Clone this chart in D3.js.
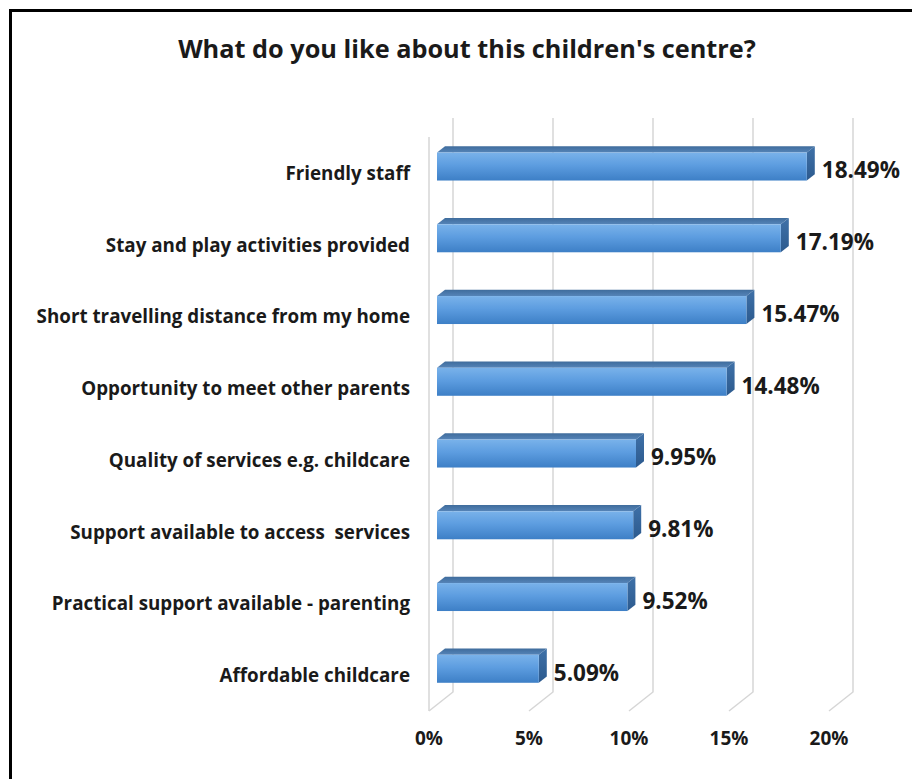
<!DOCTYPE html>
<html>
<head>
<meta charset="utf-8">
<script src="https://cdn.jsdelivr.net/npm/d3@7"></script>
<style>
  html, body { margin: 0; padding: 0; background: #fff; }
  svg { display: block; }
  text { font-family: "Open Sans", "DejaVu Sans", sans-serif; font-weight: bold; fill: #1a1a1a; white-space: pre; }
</style>
</head>
<body>
<svg id="chart" width="912" height="779"></svg>
<script>
// Survey answers and their share of responses (%)
const categories = [
  "Friendly staff",
  "Stay and play activities provided",
  "Short travelling distance from my home",
  "Opportunity to meet other parents",
  "Quality of services e.g. childcare",
  "Support available to access  services",
  "Practical support available - parenting",
  "Affordable childcare"
];
const values = [18.49, 17.19, 15.47, 14.48, 9.95, 9.81, 9.52, 5.09];
const ticks = [0, 5, 10, 15, 20];
const title = "What do you like about this children's centre?";

const svg = d3.select("#chart");
const W = 912, H = 779;

// Front plane scales
const x = d3.scaleLinear().domain([0, 20]).range([429, 829]);
const y = d3.scaleBand().domain(categories).range([137, 711]).padding(0);

// 3D depth of the plot box (back wall offset) and of the bars
const depth = { dx: 24, dy: -19 };
const barFront = 1 / 3, barBack = 2 / 3;
const off1 = { dx: depth.dx * barFront, dy: depth.dy * barFront };
const bd = { dx: depth.dx * (barBack - barFront), dy: depth.dy * (barBack - barFront) };
const barH = y.bandwidth() * 0.39;

// gradients
const defs = svg.append("defs");
const gFront = defs.append("linearGradient").attr("id", "gFront")
  .attr("x1", 0).attr("y1", 0).attr("x2", 0).attr("y2", 1);
gFront.append("stop").attr("offset", "0%").attr("stop-color", "#79b2ea");
gFront.append("stop").attr("offset", "45%").attr("stop-color", "#5d9de0");
gFront.append("stop").attr("offset", "100%").attr("stop-color", "#3d7fc6");
const gTop = defs.append("linearGradient").attr("id", "gTop")
  .attr("x1", 0).attr("y1", 0).attr("x2", 0).attr("y2", 1);
gTop.append("stop").attr("offset", "0%").attr("stop-color", "#3f6c9c");
gTop.append("stop").attr("offset", "100%").attr("stop-color", "#5584b8");
const gSide = defs.append("linearGradient").attr("id", "gSide")
  .attr("x1", 0).attr("y1", 0).attr("x2", 0).attr("y2", 1);
gSide.append("stop").attr("offset", "0%").attr("stop-color", "#3f71a8");
gSide.append("stop").attr("offset", "100%").attr("stop-color", "#2c5a8e");

// background
svg.append("rect").attr("width", W).attr("height", H).attr("fill", "#fff");

// frame (left and top edges of the chart area)
svg.append("path")
  .attr("d", `M10.5,${H} L10.5,10.5 L${W},10.5`)
  .attr("fill", "none").attr("stroke", "#000").attr("stroke-width", 3);

// title
svg.append("text")
  .attr("x", 467).attr("y", 58)
  .attr("text-anchor", "middle")
  .attr("font-size", 25.3)
  .text(title);

// gridlines: back wall verticals + floor diagonals
const grid = svg.append("g").attr("stroke", "#d6d6d6").attr("stroke-width", 1.5).attr("fill", "none");
const yTopFront = y.range()[0], yBotFront = y.range()[1];
grid.selectAll("path.g").data(ticks).join("path")
  .attr("d", t => {
    const bx = x(t) + depth.dx;
    return `M${bx},${yTopFront + depth.dy} L${bx},${yBotFront + depth.dy} L${x(t)},${yBotFront}`;
  });
// side wall front edge
grid.append("path").attr("d", `M${x(0)},${yTopFront} L${x(0)},${yBotFront}`);

// bars
const data = categories.map((c, i) => ({ c, v: values[i] }));
const bars = svg.append("g").selectAll("g").data(data).join("g");

function geom(d) {
  const cy = y(d.c) + y.bandwidth() / 2;
  const x0 = x(0) + off1.dx, x1 = x(d.v) + off1.dx;
  const yT = cy - barH / 2 + off1.dy, yB = yT + barH;
  return { x0, x1, yT, yB, cy };
}

bars.append("path")
  .attr("fill", "url(#gTop)")
  .attr("d", d => {
    const g = geom(d);
    return `M${g.x0},${g.yT} L${g.x1},${g.yT} L${g.x1 + bd.dx},${g.yT + bd.dy} L${g.x0 + bd.dx},${g.yT + bd.dy} Z`;
  });
bars.append("path")
  .attr("fill", "url(#gSide)")
  .attr("d", d => {
    const g = geom(d);
    return `M${g.x1},${g.yT} L${g.x1 + bd.dx},${g.yT + bd.dy} L${g.x1 + bd.dx},${g.yB + bd.dy} L${g.x1},${g.yB} Z`;
  });
bars.append("rect")
  .attr("fill", "url(#gFront)")
  .attr("x", d => geom(d).x0)
  .attr("y", d => geom(d).yT)
  .attr("width", d => geom(d).x1 - geom(d).x0)
  .attr("height", barH);

// value labels
bars.append("text")
  .attr("x", d => geom(d).x1 + bd.dx + 7)
  .attr("y", d => geom(d).cy - 3)
  .attr("dominant-baseline", "central")
  .attr("font-size", 22.5)
  .text(d => d.v.toFixed(2) + "%");

// category labels
svg.append("g").selectAll("text").data(categories).join("text")
  .attr("x", 410)
  .attr("y", c => y(c) + y.bandwidth() / 2)
  .attr("text-anchor", "end")
  .attr("dominant-baseline", "central")
  .attr("font-size", 18.8)
  .text(c => c);

// value axis tick labels
svg.append("g").selectAll("text").data(ticks).join("text")
  .attr("x", t => x(t))
  .attr("y", 738)
  .attr("text-anchor", "middle")
  .attr("dominant-baseline", "central")
  .attr("font-size", 19)
  .text(t => t + "%");
</script>
</body>
</html>
